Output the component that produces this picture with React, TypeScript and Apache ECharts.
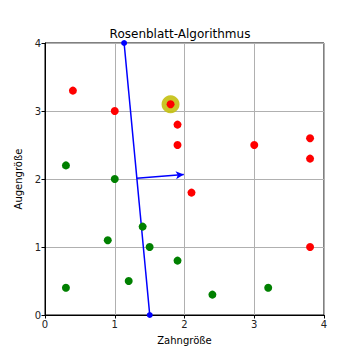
import React, { useEffect, useRef } from "react";
import * as echarts from "echarts";

const redPoints: [number, number][] = [
  [0.4, 3.3], [1.0, 3.0], [1.8, 3.1], [1.9, 2.8], [1.9, 2.5],
  [3.0, 2.5], [3.8, 2.6], [3.8, 2.3], [2.1, 1.8], [3.8, 1.0],
];
const greenPoints: [number, number][] = [
  [0.3, 2.2], [1.0, 2.0], [1.4, 1.3], [0.9, 1.1], [1.5, 1.0],
  [1.9, 0.8], [1.2, 0.5], [0.3, 0.4], [2.4, 0.3], [3.2, 0.4],
];
const highlightPoint: [number, number][] = [[1.8, 3.1]];
const separatorLine: [number, number][] = [[1.134, 4.0], [1.502, 0.0]];
const normalArrow: [number, number][] = [[1.316, 2.01], [1.99, 2.065]];
const ticks = [0, 1, 2, 3, 4];

export default function App() {
  const ref = useRef<HTMLDivElement>(null);
  useEffect(() => {
    if (!ref.current) return;
    const chart = echarts.init(ref.current, null, { renderer: "svg" });
    const font = "DejaVu Sans";
    const axisCommon = {
      min: ticks[0],
      max: ticks[ticks.length - 1],
      interval: 1,
      axisLine: { show: true, lineStyle: { color: "#000", width: 1 } },
      axisTick: { show: true, length: 3.5, lineStyle: { color: "#000" } },
      axisLabel: { color: "#222", fontFamily: font, fontSize: 10, margin: 4 },
      splitLine: { show: true, lineStyle: { color: "#b0b0b0", width: 1 } },
      nameLocation: "middle" as const,
      nameTextStyle: { color: "#000", fontFamily: font, fontSize: 10 },
    };
    chart.setOption({
      animation: false,
      backgroundColor: "#fff",
      title: {
        text: "Rosenblatt-Algorithmus",
        left: "center",
        top: 23,
        textStyle: { fontFamily: font, fontSize: 12, fontWeight: "normal", color: "#000" },
      },
      grid: {
        left: 45, right: 36, top: 43, bottom: 45,
        show: true, borderColor: "#000", borderWidth: 1, backgroundColor: "transparent",
      },
      xAxis: { ...axisCommon, type: "value", name: "Zahngröße", nameGap: 20 },
      yAxis: { ...axisCommon, type: "value", name: "Augengröße", nameGap: 15 },
      series: [
        {
          type: "line",
          data: separatorLine,
          symbol: "circle",
          symbolSize: 6,
          showSymbol: true,
          itemStyle: { color: "#0000ff", opacity: 1 },
          lineStyle: { color: "#0000ff", width: 1.5 },
          z: 3,
          markLine: {
            silent: true,
            symbol: ["none", "arrow"],
            symbolSize: [6, 8],
            label: { show: false },
            lineStyle: { color: "#0000ff", width: 1.5, type: "solid" },
            data: [[{ coord: normalArrow[0] }, { coord: normalArrow[1] }]],
          },
        },
        {
          type: "scatter",
          data: highlightPoint,
          symbolSize: 18,
          itemStyle: { color: "#c4c010", opacity: 0.9 },
          z: 2,
        },
        {
          type: "scatter",
          data: redPoints,
          symbolSize: 8,
          itemStyle: { color: "#ff0000", opacity: 1 },
          z: 4,
        },
        {
          type: "scatter",
          data: greenPoints,
          symbolSize: 8,
          itemStyle: { color: "#008000", opacity: 1 },
          z: 4,
        },
      ],
    });
    return () => chart.dispose();
  }, []);
  return <div ref={ref} style={{ width: 360, height: 360, margin: -8 }} />;
}
